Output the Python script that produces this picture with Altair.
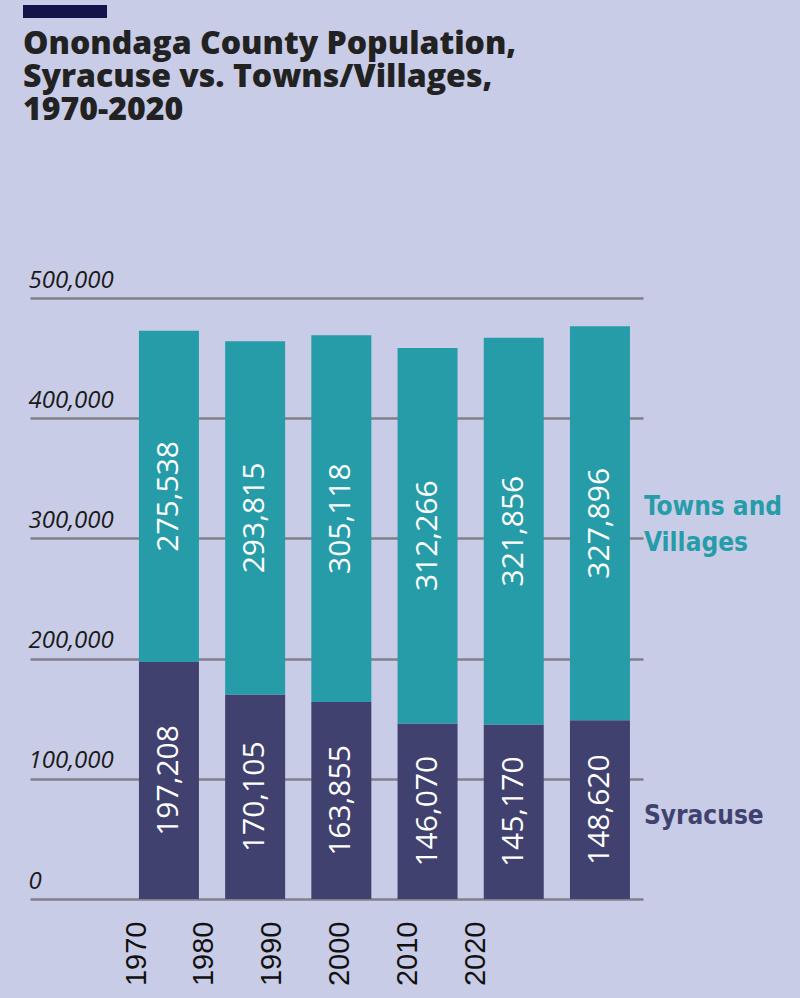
import altair as alt
import pandas as pd

years = ["1970", "1980", "1990", "2000", "2010", "2020"]
year_nums = [1970, 1980, 1990, 2000, 2010, 2020]
syracuse = [197208, 170105, 163855, 146070, 145170, 148620]
towns = [275538, 293815, 305118, 312266, 321856, 327896]
groups = ["Syracuse", "Towns and Villages"]
series_labels = ["Syracuse", "Towns and\nVillages"]
group_colors = ["#41416f", "#269ca9"]
y_ticks = [0, 100000, 200000, 300000, 400000, 500000]
title_lines = ["Onondaga County Population,", "Syracuse vs. Towns/Villages,", "1970-2020"]

rows = []
for i, yr in enumerate(years):
    rows.append(dict(year=yr, group=groups[0], value=syracuse[i], order=0, label=series_labels[0]))
    rows.append(dict(year=yr, group=groups[1], value=towns[i], order=1, label=series_labels[1]))
df = pd.DataFrame(rows)

xscale = alt.Scale(domain=years, paddingInner=0.304, paddingOuter=0.7076, align=0.893)
yscale = alt.Scale(domain=[0, 500000], nice=False)
yaxis = alt.Axis(values=y_ticks, labelExpr="format(datum.value, ',')")
color = alt.Color("group:N", scale=alt.Scale(domain=groups, range=group_colors), legend=None)

base = alt.Chart(df)

bars = base.mark_bar(strokeWidth=0).encode(
    x=alt.X("year:N", scale=xscale, axis=None),
    y=alt.Y("value:Q", stack="zero", scale=yscale, title=None, axis=yaxis),
    color=color,
    order=alt.Order("order:Q"),
)

stacked = base.transform_stack(
    stack="value", as_=["y0", "y1"], groupby=["year"], sort=[alt.SortField("order")]
).transform_calculate(mid="(datum.y0 + datum.y1) / 2")

bar_labels = stacked.mark_text(
    angle=270, color="white", fontSize=30, font="Open Sans", baseline="middle", align="center"
).encode(
    x=alt.X("year:N", scale=xscale, axis=None),
    y=alt.Y("mid:Q", scale=yscale, title=None, axis=yaxis),
    text=alt.Text("value:Q", format=","),
)

label_font = "'Liberation Sans Narrow', 'DejaVu Sans Condensed', Roboto, sans-serif"


def series_label(group_name, dy):
    return stacked.transform_filter(
        (alt.datum.year == years[-1]) & (alt.datum.group == group_name)
    ).mark_text(
        align="left", baseline="middle", dx=44, dy=dy, fontSize=26,
        font=label_font, fontWeight="bold", lineBreak="\n", lineHeight=36
    ).encode(
        x=alt.X("year:N", scale=xscale, axis=None),
        y=alt.Y("mid:Q", scale=yscale, title=None, axis=yaxis),
        text="label:N",
        color=color,
    )


inner = alt.layer(bars, bar_labels, series_label(groups[0], 6), series_label(groups[1], -16))

year_axis = alt.Chart(pd.DataFrame({"yr": year_nums})).mark_point(opacity=0).encode(
    x=alt.X("yr:Q",
            scale=alt.Scale(domain=[1954.4, 2044.6], nice=False, zero=False),
            axis=alt.Axis(title=None, labelAngle=270, values=year_nums, format="d",
                          labelAlign="right", labelBaseline="middle")),
)

accent = alt.Chart(pd.DataFrame({"k": [0]})).mark_rect(color="#13154a").encode(
    x=alt.value(-7), x2=alt.value(77), y=alt.value(-293), y2=alt.value(-280)
)

chart = alt.layer(inner, year_axis, accent).resolve_scale(x="independent").properties(
    width=613,
    height=601,
    autosize=alt.AutoSizeParams(type="none"),
    padding={"left": 30, "top": 298, "right": 157, "bottom": 99},
    background="#c9cce6",
    title=alt.TitleParams(
        text=title_lines, anchor="start", frame="group", font="Open Sans",
        fontSize=32, fontWeight=800, color="#222222", lineHeight=33, dx=-7, offset=-122,
    ),
).configure_view(stroke=None).configure_axisY(
    domain=False, ticks=False, tickSize=0, grid=True, gridColor="#80808b", gridWidth=2.5,
    labelAlign="left", labelBaseline="alphabetic", labelPadding=2, labelOffset=-11,
    labelFont="Open Sans", labelFontStyle="italic", labelFontSize=24, labelColor="#1a1a1a",
).configure_axisX(
    domain=False, ticks=False, tickSize=0, grid=False,
    labelFont="Liberation Sans", labelFontSize=29, labelColor="#111111", labelPadding=22,
)

chart.save("out.html", embed_options={"renderer": "svg", "actions": False})
